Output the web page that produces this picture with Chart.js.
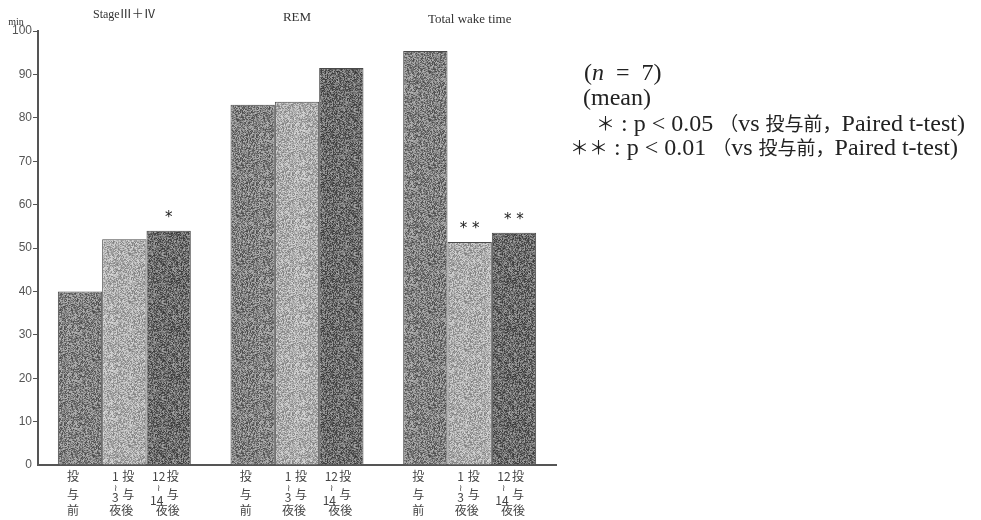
<!DOCTYPE html>
<html>
<head>
<meta charset="utf-8">
<script src="https://cdn.jsdelivr.net/npm/chart.js@4.4.1/dist/chart.umd.min.js"></script>
<style>
    html, body { margin: 0; padding: 0; background: #fff; }
    #wrap { position: relative; width: 981px; height: 520px; }
    #notes {
        position: absolute; left: 0; top: 0;
        font-family: "Liberation Serif", serif;
        font-size: 24px; color: #222;
    }
    #notes div { position: absolute; white-space: nowrap; line-height: 24px; }
    #notes .cj { font-family: "Noto Sans CJK JP", sans-serif; font-size: 19px; }
</style>
</head>
<body>
<div id="wrap">
    <canvas id="sleepChart" width="981" height="520"></canvas>
    <div id="notes">
        <div style="left:584px; top:60px;">(<i>n</i>&nbsp; =&nbsp; 7)</div>
        <div style="left:583px; top:85px;">(mean)</div>
        <div style="left:596px; top:111px;"><span class="cj">＊</span> : p &lt; 0.05 <span class="cj">（</span>vs <span class="cj">投与前，</span>Paired t-test)</div>
        <div style="left:570px; top:135px;"><span class="cj">＊＊</span> : p &lt; 0.01 <span class="cj">（</span>vs <span class="cj">投与前，</span>Paired t-test)</div>
    </div>
</div>
<script>
// Data (minutes, mean of n = 7)
const groups = ['Stage\u2162\uFF0B\u2163', 'REM', 'Total wake time'];
const beforeDose = [40, 83, 95.4];
const nights1to3 = [52, 83.7, 51.4];
const nights12to14 = [54, 91.5, 53.5];
const sigBefore = ['', '', ''];
const sig1to3 = ['', '', '**'];
const sig12to14 = ['*', '', '**'];
const yTicks = [0, 10, 20, 30, 40, 50, 60, 70, 80, 90, 100];

// Speckled grey fill like the printed bars (hash noise, not data)
function hash(i) {
    const x = Math.sin(i * 12.9898 + 78.233) * 43758.5453;
    return x - Math.floor(x);
}

function makePattern(base, spread, seed) {
    const c = document.createElement('canvas');
    c.width = 48; c.height = 48;
    const g = c.getContext('2d');
    const img = g.createImageData(48, 48);
    for (let i = 0; i < 48 * 48; i++) {
        const v = Math.max(0, Math.min(255, base + (hash(i + seed) - 0.5) * spread));
        img.data[i * 4] = v;
        img.data[i * 4 + 1] = v;
        img.data[i * 4 + 2] = v;
        img.data[i * 4 + 3] = 255;
    }
    g.putImageData(img, 0, 0);
    return g.createPattern(c, 'repeat');
}

// Labels under each bar, one set per dataset
const barLabels = [
    [['投', -7, 476], ['与', -7, 494], ['前', -7, 510]],
    [['1', -9, 476], ['投', 4, 476], ['\u2240', -9, 488], ['3', -9, 497], ['与', 4, 494], ['夜後', -3, 510]],
    [['12', -10, 476], ['投', 4, 476], ['\u2240', -10, 488], ['14', -12, 500], ['与', 4, 494], ['夜後', -1, 510]]
];
const sigMarks = [sigBefore, sig1to3, sig12to14];

const decorPlugin = {
    id: 'decor',
    afterDraw(chart) {
        const ctx = chart.ctx;
        const xScale = chart.scales.x;
        ctx.save();
        ctx.textAlign = 'center';
        ctx.textBaseline = 'middle';

        // group titles
        ctx.fillStyle = '#333';
        const titleY = [15, 18, 20];
        const titleSize = [12, 13, 13];
        groups.forEach((g, i) => {
            ctx.font = titleSize[i] + 'px "Liberation Serif", "Noto Sans CJK JP", serif';
            ctx.fillText(g, xScale.getPixelForValue(i), titleY[i]);
        });

        // "min" unit
        ctx.font = '10px "Liberation Serif", serif';
        ctx.fillText('min', 16, 22);

        // labels under bars and significance marks
        chart.data.datasets.forEach((ds, di) => {
            const meta = chart.getDatasetMeta(di);
            meta.data.forEach((bar, i) => {
                ctx.fillStyle = '#444';
                barLabels[di].forEach(([t, dx, y]) => {
                    ctx.font = (t === '\u2240' ? '9px' : '12px') + ' "Noto Sans CJK JP", "Liberation Serif", serif';
                    ctx.fillText(t, bar.x + dx, y);
                });
                const mark = sigMarks[di][i];
                if (mark) {
                    ctx.fillStyle = '#222';
                    ctx.font = '15px "DejaVu Sans", sans-serif';
                    ctx.fillText(mark.split('').join(' '), bar.x, bar.y - 13);
                }
            });
        });
        ctx.restore();
    }
};

document.addEventListener('DOMContentLoaded', function () {
    const fills = [
        makePattern(128, 110, 11),
        makePattern(172, 90, 503),
        makePattern(108, 110, 2207)
    ];
    const series = [beforeDose, nights1to3, nights12to14];
    const names = ['投与前', '1～3夜後', '12～14夜後'];

    new Chart(document.getElementById('sleepChart').getContext('2d'), {
        type: 'bar',
        data: {
            labels: groups,
            datasets: series.map((s, i) => ({
                label: names[i],
                data: s,
                backgroundColor: fills[i],
                borderColor: '#4a4a4a',
                borderWidth: 1,
                borderSkipped: 'bottom',
                categoryPercentage: 0.77,
                barPercentage: 1
            }))
        },
        options: {
            responsive: false,
            animation: false,
            layout: { padding: { top: 31, bottom: 55, left: 0, right: 425 } },
            scales: {
                x: {
                    grid: { display: false },
                    border: { color: '#555', width: 2 },
                    ticks: { display: false },
                    afterFit(scale) { scale.height = 0; }
                },
                y: {
                    min: 0,
                    max: 100,
                    afterBuildTicks(scale) { scale.ticks = yTicks.map(v => ({ value: v })); },
                    grid: {
                        drawOnChartArea: false,
                        drawTicks: true,
                        tickLength: 5,
                        color: (c) => (c.tick && c.tick.value === 0 ? 'rgba(0,0,0,0)' : '#555')
                    },
                    border: { color: '#555', width: 2 },
                    ticks: {
                        padding: 1,
                        color: '#555',
                        font: { family: '"Liberation Sans", sans-serif', size: 12 }
                    },
                    afterFit(scale) { scale.width = 38; }
                }
            },
            plugins: {
                legend: { display: false },
                tooltip: { enabled: false },
                title: { display: false }
            }
        },
        plugins: [decorPlugin]
    });
});
</script>
</body>
</html>
